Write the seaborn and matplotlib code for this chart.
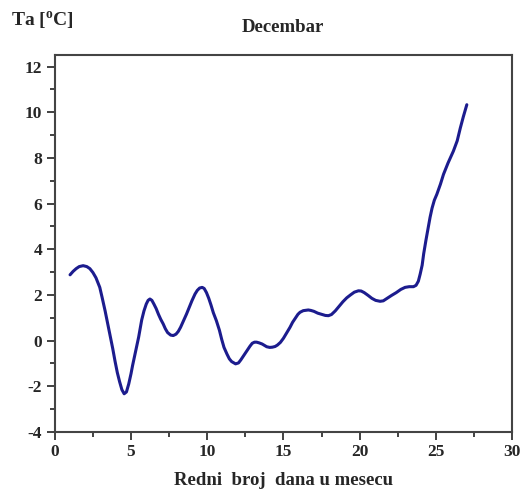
import matplotlib
matplotlib.use("Agg")
import matplotlib.pyplot as plt
import seaborn as sns
import pandas as pd
from matplotlib.ticker import MultipleLocator

# Values (day of month, air temperature)
days = [1.0, 1.2, 1.4, 1.6, 1.86, 2.1, 2.3, 2.5, 2.7, 2.95, 3.1, 3.3, 3.45, 3.6, 3.8,
        3.95, 4.1, 4.25, 4.4, 4.55, 4.7, 4.85, 5.0, 5.1, 5.23, 5.36, 5.5, 5.7, 5.85,
        6.0, 6.12, 6.24, 6.37, 6.5, 6.65, 6.8, 6.95, 7.11, 7.25, 7.4, 7.6, 7.77, 7.95,
        8.1, 8.25, 8.4, 8.64, 8.8, 9.0, 9.2, 9.35, 9.5, 9.67, 9.8, 9.95, 10.1, 10.25,
        10.4, 10.6, 10.8, 10.95, 11.1, 11.3, 11.45, 11.6, 11.86, 12.05, 12.2, 12.4,
        12.6, 12.8, 12.95, 13.1, 13.24, 13.4, 13.6, 13.9, 14.1, 14.27, 14.45, 14.6,
        14.8, 15.0, 15.2, 15.43, 15.6, 15.8, 15.95, 16.09, 16.3, 16.63, 16.8, 17.0,
        17.25, 17.5, 17.75, 17.95, 18.15, 18.4, 18.65, 18.9, 19.15, 19.4, 19.65, 19.92,
        20.1, 20.3, 20.55, 20.8, 21.05, 21.34, 21.55, 21.8, 22.1, 22.4, 22.7, 22.98,
        23.25, 23.53, 23.7, 23.85, 23.97, 24.1, 24.2, 24.35, 24.5, 24.62, 24.75, 24.9,
        25.06, 25.3, 25.5, 25.8, 26.15, 26.4, 26.6, 26.8, 27.03]
temps = [2.88, 3.03, 3.15, 3.24, 3.28, 3.24, 3.15, 2.98, 2.75, 2.33, 1.9, 1.3, 0.8, 0.3,
         -0.35, -0.9, -1.4, -1.8, -2.15, -2.33, -2.25, -1.9, -1.45, -1.1, -0.7, -0.29,
         0.15, 0.9, 1.3, 1.6, 1.76, 1.82, 1.76, 1.6, 1.4, 1.15, 0.93, 0.73, 0.52, 0.35,
         0.24, 0.22, 0.28, 0.4, 0.58, 0.8, 1.16, 1.42, 1.75, 2.04, 2.2, 2.3, 2.33, 2.28,
         2.1, 1.85, 1.55, 1.22, 0.87, 0.45, 0.05, -0.3, -0.6, -0.8, -0.92, -1.02, -0.98,
         -0.85, -0.65, -0.45, -0.25, -0.12, -0.07, -0.07, -0.1, -0.15, -0.27, -0.3, -0.29,
         -0.26, -0.2, -0.08, 0.1, 0.32, 0.58, 0.8, 1.0, 1.15, 1.24, 1.31, 1.34, 1.32,
         1.28, 1.2, 1.15, 1.1, 1.09, 1.14, 1.3, 1.5, 1.7, 1.87, 2.0, 2.12, 2.18, 2.17,
         2.1, 1.98, 1.85, 1.76, 1.72, 1.74, 1.85, 1.98, 2.1, 2.24, 2.33, 2.36, 2.36,
         2.42, 2.6, 2.91, 3.3, 3.8, 4.4, 4.95, 5.4, 5.8, 6.15, 6.4, 6.85, 7.28, 7.78,
         8.3, 8.75, 9.3, 9.8, 10.33]

df = pd.DataFrame({"dan": days, "ta": temps})

sns.set_style("white")
plt.rcParams["font.family"] = ["Liberation Serif", "DejaVu Serif"]
plt.rcParams["font.weight"] = "bold"
plt.rcParams["axes.unicode_minus"] = False
plt.rcParams["mathtext.fontset"] = "custom"
plt.rcParams["mathtext.rm"] = "Liberation Serif:bold"
plt.rcParams["mathtext.bf"] = "Liberation Serif:bold"

fig = plt.figure(figsize=(5.22, 4.97), dpi=100)
ax = fig.add_axes([0.105, 0.131, 0.876, 0.758])
sns.lineplot(data=df, x="dan", y="ta", color="#1c1c8e", linewidth=2.2, sort=False, ax=ax)

ax.set_xlim(0, 30)
ax.set_ylim(-4, 12.5)
ax.xaxis.set_major_locator(MultipleLocator(5))
ax.xaxis.set_minor_locator(MultipleLocator(2.5))
ax.yaxis.set_major_locator(MultipleLocator(2))
ax.yaxis.set_minor_locator(MultipleLocator(1))
ax.tick_params(which="major", direction="out", length=6, width=1.3, labelsize=12.5,
               bottom=True, left=True, color="#333333", pad=3)
ax.tick_params(which="minor", direction="out", length=3.5, width=1.3,
               bottom=True, left=True, color="#333333")
for lab in ax.get_xticklabels() + ax.get_yticklabels():
    lab.set_fontweight("bold")
for s in ax.spines.values():
    s.set_color("#444444")
    s.set_linewidth(1.5)

ax.set_xlabel("Redni  broj  dana u mesecu", fontsize=13.5, fontweight="bold", labelpad=8)
ax.set_ylabel("")
fig.text(0.022, 0.948, "Ta [$^{\\mathrm{o}}$C]", fontsize=14, fontweight="bold", ha="left")
fig.text(0.542, 0.935, "Decembar", fontsize=13.5, fontweight="bold", ha="center")

fig.savefig("out.png", dpi=100)
